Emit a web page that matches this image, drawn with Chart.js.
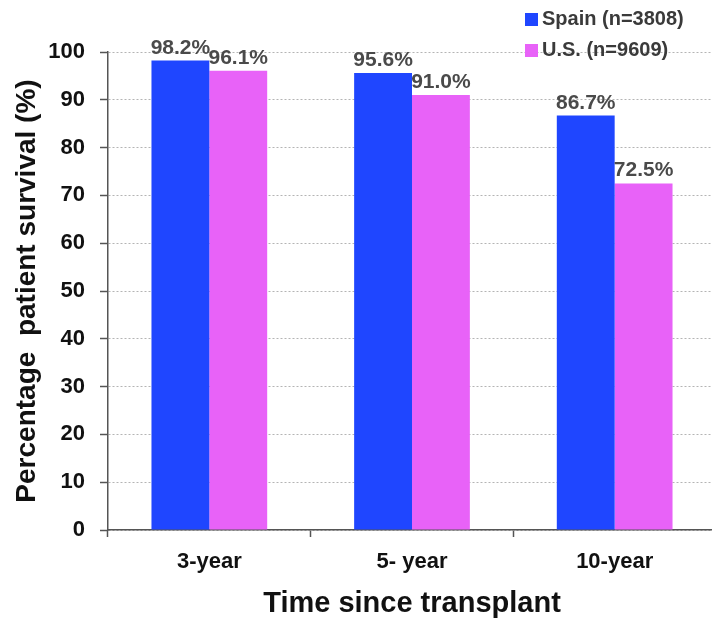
<!DOCTYPE html>
<html>
<head>
<meta charset="utf-8">
<title>Patient survival after transplant</title>
<script src="https://cdn.jsdelivr.net/npm/chart.js@4.4.1/dist/chart.umd.min.js"></script>
<style>
  html, body { margin: 0; padding: 0; background: #ffffff; overflow: hidden; }
  #wrap { position: relative; width: 716px; height: 618px; }
</style>
</head>
<body>
<div id="wrap"><canvas id="chart" width="716" height="618"></canvas></div>
<script>
// Survival figures by time since transplant
const categories = ['3-year', '5- year', '10-year'];
const spainLabel = 'Spain (n=3808)';
const usLabel = 'U.S. (n=9609)';
const spainValues = [98.2, 95.6, 86.7];
const usValues = [96.1, 91.0, 72.5];
const yTicks = [0, 10, 20, 30, 40, 50, 60, 70, 80, 90, 100];

const FONT = "'Liberation Sans', Arial, Helvetica, sans-serif";
Chart.defaults.font.family = FONT;

// Value labels above every bar
const valueLabels = {
  id: 'valueLabels',
  afterDatasetsDraw(chart) {
    const ctx = chart.ctx;
    ctx.save();
    ctx.font = 'bold 21px ' + FONT;
    ctx.fillStyle = '#4a4a4a';
    ctx.textAlign = 'center';
    ctx.textBaseline = 'alphabetic';
    chart.data.datasets.forEach((ds, i) => {
      chart.getDatasetMeta(i).data.forEach((bar, j) => {
        ctx.fillText(ds.data[j].toFixed(1) + '%', bar.x, bar.y - 7);
      });
    });
    ctx.restore();
  }
};

// Stacked legend in the upper right corner
const cornerLegend = {
  id: 'cornerLegend',
  afterDraw(chart) {
    const ctx = chart.ctx;
    ctx.save();
    ctx.font = 'bold 20px ' + FONT;
    ctx.textAlign = 'left';
    ctx.textBaseline = 'middle';
    chart.data.datasets.forEach((ds, i) => {
      const cy = 19 + i * 31;
      ctx.fillStyle = ds.backgroundColor;
      ctx.fillRect(525, cy - 6, 13, 13);
      ctx.fillStyle = '#3a3a3a';
      ctx.fillText(ds.label, 542, cy);
    });
    ctx.restore();
  }
};

new Chart(document.getElementById('chart'), {
  type: 'bar',
  data: {
    labels: categories,
    datasets: [
      { label: spainLabel, data: spainValues, backgroundColor: '#1f46ff' },
      { label: usLabel, data: usValues, backgroundColor: '#e862f8' }
    ]
  },
  options: {
    responsive: false,
    animation: false,
    devicePixelRatio: 1,
    layout: { padding: { top: 52, left: 0, right: 0, bottom: 0 } },
    datasets: { bar: { categoryPercentage: 0.571, barPercentage: 1.0 } },
    plugins: {
      legend: { display: false },
      tooltip: { enabled: false }
    },
    scales: {
      x: {
        afterFit(scale) { scale.height = 88; },
        grid: {
          drawOnChartArea: false,
          offset: true,
          tickLength: 7,
          tickColor: '#555555',
          tickWidth: 1.5
        },
        border: { color: '#555555', width: 1.5 },
        ticks: {
          color: '#111111',
          padding: 12,
          font: { size: 22, weight: 'bold', lineHeight: 1.2 }
        },
        title: {
          display: true,
          text: 'Time since transplant',
          color: '#111111',
          padding: { top: 0, bottom: 0 },
          font: { size: 29, weight: 'bold', lineHeight: 1.0 }
        }
      },
      y: {
        min: 0,
        max: 100,
        afterFit(scale) { scale.width = 108; },
        afterBuildTicks(scale) { scale.ticks = yTicks.map(v => ({ value: v })); },
        grid: {
          color: '#b4b4b4',
          lineWidth: 1,
          tickLength: 8,
          tickColor: '#555555',
          tickWidth: 1.5
        },
        border: { color: '#555555', width: 1.5, dash: [2, 2] },
        ticks: {
          color: '#111111',
          padding: 15,
          font: { size: 22, weight: 'bold' }
        },
        title: {
          display: true,
          text: 'Percentage  patient survival (%)',
          color: '#111111',
          padding: { top: 13, bottom: 0 },
          font: { size: 28, weight: 'bold', lineHeight: 1.0 }
        }
      }
    }
  },
  plugins: [valueLabels, cornerLegend]
});
</script>
</body>
</html>
